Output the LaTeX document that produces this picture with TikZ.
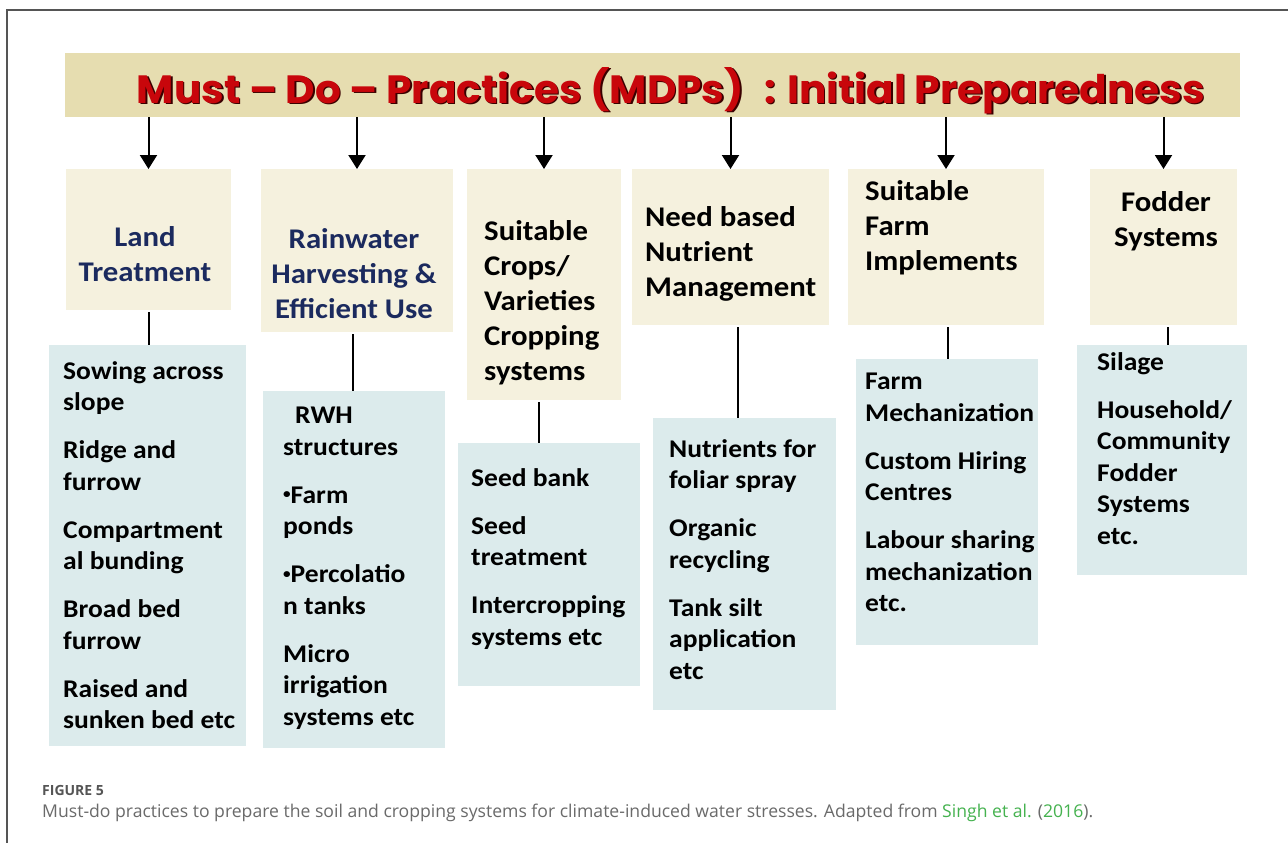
\documentclass[tikz,border=0pt]{standalone}
\usepackage{fontspec}
\setmainfont{Carlito}
\newfontfamily\boxfont[FakeStretch=1.08]{Carlito}
\newfontfamily\titlefont{Poppins}
\newfontfamily\capfont{Open Sans}
\usetikzlibrary{arrows.meta}

\definecolor{barfill}{HTML}{E6DDB0}
\definecolor{headfill}{HTML}{F5F1DE}
\definecolor{itemfill}{HTML}{DCEBEC}
\definecolor{titlered}{HTML}{C8060B}
\definecolor{titleshade}{HTML}{3A0000}
\definecolor{navy}{HTML}{1B2A5E}
\definecolor{capgray}{HTML}{6A6A6A}
\definecolor{capdark}{HTML}{555555}
\definecolor{linkgreen}{HTML}{45B24F}
\definecolor{framegray}{HTML}{555555}

\tikzset{
  x=1pt, y=-1pt,
  panel/.style={anchor=north west, inner sep=0pt, outer sep=0pt, draw=none},
  headbox/.style={panel, fill=headfill},
  itembox/.style={panel, fill=itemfill},
  headtext/.style={inner sep=0pt, font=\boxfont\bfseries\fontsize{28.5}{35}\selectfont},
  itemtext/.style={anchor=north west, inner sep=0pt, align=left,
    font=\boxfont\bfseries\fontsize{25.5}{31.5}\selectfont},
  arr/.style={line width=2pt, -{Triangle[width=17pt,length=14pt]}},
  link/.style={line width=2pt},
}
\newcommand{\itemgap}{\\[16.5pt]}
\newcommand{\smallbullet}{\raisebox{0.18em}{\scalebox{0.55}{•}}}
\newcommand{\titletext}{\resizebox{1068pt}{36pt}{\titlefont\bfseries Must – Do – Practices (MDPs)\hspace{0.5em}: Initial Preparedness}}

\begin{document}
\begin{tikzpicture}
\useasboundingbox (0,0) rectangle (1288,843);
\fill[white] (0,0) rectangle (1288,843);

% frame
\draw[framegray, line width=1.2pt] (7,843) -- (7,10) -- (1288,10);

% title bar
\node[panel, fill=barfill, minimum width=1175, minimum height=64] (bar) at (65,53) {};
\node[anchor=base, inner sep=0pt, text=titleshade] (titleshadow) at (672.5,104.5) {\titletext};
\node[anchor=base, inner sep=0pt, text=titlered] (title) at (671,103) {\titletext};

% headline boxes
\node[headbox, minimum width=165, minimum height=141] (b1) at (66,169) {};
\node[headbox, minimum width=192, minimum height=163] (b2) at (261,169) {};
\node[headbox, minimum width=154, minimum height=231] (b3) at (467,169) {};
\node[headbox, minimum width=197, minimum height=156] (b4) at (632,169) {};
\node[headbox, minimum width=196, minimum height=156] (b5) at (848,169) {};
\node[headbox, minimum width=147, minimum height=156] (b6) at (1090,169) {};

% item boxes
\node[itembox, minimum width=197, minimum height=401] (c1) at (49,345) {};
\node[itembox, minimum width=182, minimum height=357] (c2) at (263,391) {};
\node[itembox, minimum width=182, minimum height=243] (c3) at (458,443) {};
\node[itembox, minimum width=183, minimum height=292] (c4) at (653,418) {};
\node[itembox, minimum width=182, minimum height=286] (c5) at (856,359) {};
\node[itembox, minimum width=170, minimum height=230] (c6) at (1077,345) {};

% arrows from the title bar
\foreach \b in {b1,b2,b3,b4,b5,b6}
  \draw[arr] (bar.south -| \b.north) -- (\b.north);

% links between headline and item boxes
\draw[link] ([yshift=-2pt]b1.south) -- (b1.south |- c1.north);
\draw[link] ([xshift=-4pt,yshift=-2pt]b2.south) -- ([xshift=-4pt]b2.south |- c2.north);
\draw[link] ([xshift=-5pt,yshift=-2pt]b3.south) -- ([xshift=-5pt]b3.south |- c3.north);
\draw[link] ([xshift=7pt,yshift=-2pt]b4.south) -- ([xshift=7pt]b4.south |- c4.north);
\draw[link] ([xshift=1.5pt,yshift=-2pt]b5.south) -- ([xshift=1.5pt]b5.south |- c5.north);
\draw[link] ([xshift=4.5pt,yshift=-2pt]b6.south) -- ([xshift=4.5pt]b6.south |- c6.north);

% headline texts
\node[headtext, anchor=north, align=center, text=navy] (h1) at (145,226) {Land\\Treatment};
\node[headtext, anchor=north, align=center, text=navy] (h2) at (354,228) {Rainwater\\Harvesting \&\\Efficient Use};
\node[headtext, anchor=north west, align=left, text=black] (h3) at (484,220) {Suitable\\Crops/\\Varieties\\Cropping\\systems};
\node[headtext, anchor=north west, align=left, text=black] (h4) at (645,206) {Need based\\Nutrient\\Management};
\node[headtext, anchor=north west, align=left, text=black] (h5) at (865,180) {Suitable\\Farm\\Implements};
\node[headtext, anchor=north, align=center, text=black] (h6) at (1166,191) {Fodder\\Systems};

% item texts
\node[itemtext] (i1) at (63,361) {Sowing across\\slope\itemgap Ridge and\\furrow\itemgap Compartment\\al bunding\itemgap Broad bed\\furrow\itemgap Raised and\\sunken bed etc};
\node[itemtext] (i2) at (283,407) {\hspace*{12pt}RWH\\structures\itemgap \smallbullet Farm\\ponds\itemgap \smallbullet Percolatio\\n tanks\itemgap Micro\\irrigation\\systems etc};
\node[itemtext] (i3) at (471,468) {Seed bank\itemgap Seed\\treatment\itemgap Intercropping\\systems etc};
\node[itemtext] (i4) at (669,439) {Nutrients for\\foliar spray\itemgap Organic\\recycling\itemgap Tank silt\\application\\etc};
\node[itemtext] (i5) at (865,373) {Farm\\Mechanization\itemgap Custom Hiring\\Centres\itemgap Labour sharing\\mechanization\\etc.};
\node[itemtext] (i6) at (1097,352) {Silage\itemgap Household/\\Community\\Fodder\\Systems\\etc.};

% caption
\node[anchor=west, inner sep=0pt, text=capdark, font=\capfont\bfseries\fontsize{14}{16}\selectfont] (figlabel) at (42,790) {FIGURE 5};
\node[anchor=west, inner sep=0pt, text=capgray, font=\capfont\fontsize{17.6}{20}\selectfont] (caption) at (42,813)
  {Must-do practices to prepare the soil and cropping systems for climate-induced water stresses. Adapted from \textcolor{linkgreen}{Singh et al.} (\textcolor{linkgreen}{2016}).};
\end{tikzpicture}
\end{document}
